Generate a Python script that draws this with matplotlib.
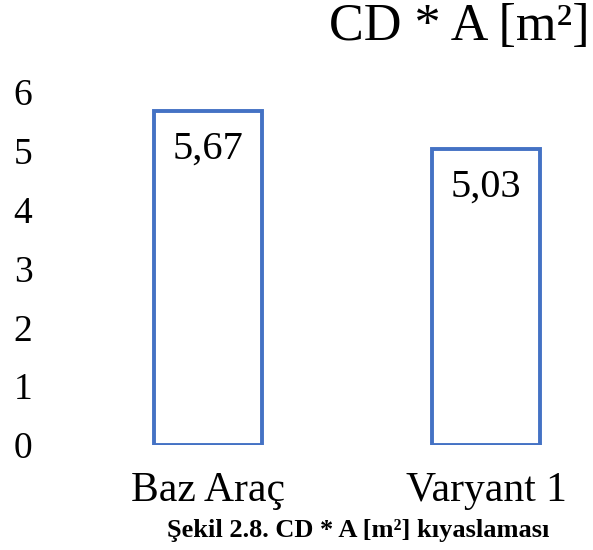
import matplotlib
matplotlib.use("Agg")
import matplotlib.pyplot as plt

categories = ["Baz Araç", "Varyant 1"]
values = [5.67, 5.03]
value_labels = ["5,67", "5,03"]
yticks = [0, 1, 2, 3, 4, 5, 6]
title = "CD * A [m²]"
caption = "Şekil 2.8. CD * A [m²] kıyaslaması"

plt.rcParams['font.family'] = ['Liberation Serif', 'DejaVu Serif']

W, H = 593, 550
fig = plt.figure(figsize=(W / 100, H / 100), dpi=100)
# axes: y=0 at 445px, y=6 at 92px; x: 45px..590px
left, right = 45, 590
bottom_px, top_px = 445, 92
ax = fig.add_axes([left / W, (H - bottom_px) / H, (right - left) / W, (bottom_px - top_px) / H])

x = list(range(len(categories)))
ax.bar(x, values, width=0.388, facecolor='white', edgecolor='#4472C4', linewidth=2.8)
for xi, v, lab in zip(x, values, value_labels):
    ax.annotate(lab, (xi, v), xytext=(0, -14), textcoords='offset points',
                ha='center', va='top', fontsize=29, color='black')

ax.set_ylim(0, 6)
ax.set_xlim(-0.586, 1.374)
ax.set_yticks(yticks)
ax.set_yticklabels([str(t) for t in yticks], fontsize=27)
ax.set_xticks(x)
ax.set_xticklabels(categories, fontsize=30)
ax.tick_params(axis='y', length=0, pad=9)
ax.tick_params(axis='x', length=0, pad=19)
for s in ax.spines.values():
    s.set_visible(False)

fig.text(590 / W, 1 - 40 / H, title, ha='right', va='baseline', fontsize=37.5)
fig.text(358 / W, 1 - 537 / H, caption, ha='center', va='baseline', fontsize=19, fontweight='bold')

fig.savefig("out.png", dpi=100)
